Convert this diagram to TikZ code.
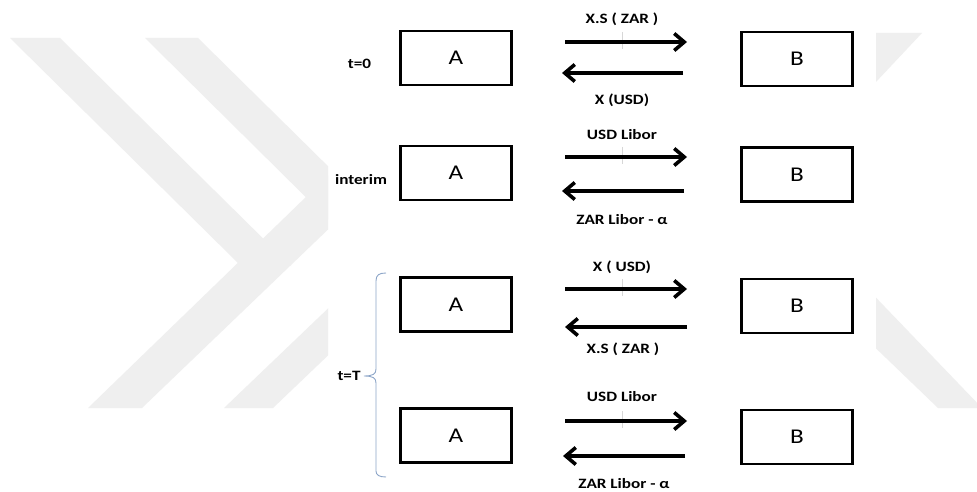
\documentclass[tikz,border=0pt]{standalone}
\usepackage{fontspec}
\setmainfont{Carlito}[FakeStretch=1.2]
\usetikzlibrary{arrows.meta}

\definecolor{wmark}{RGB}{239,239,239}
\definecolor{bracecol}{RGB}{140,165,200}
\definecolor{tickcol}{RGB}{215,215,215}

\begin{document}
\begin{tikzpicture}[x=1pt,y=-1pt,
  party/.style={draw, line width=2.6pt, minimum width=111pt, minimum height=54pt,
    inner sep=0pt, font=\fontsize{21}{21}\selectfont},
  flow/.style={line width=3.6pt,
    -{Straight Barb[length=10pt,width=17pt,line width=3.6pt]}},
  lbl/.style={inner sep=0pt, text height=9.2pt, text depth=0pt,
    font=\fontsize{14.3}{15}\selectfont\bfseries},
  tickmark/.style={draw=tickcol, line width=0.6pt}]

\useasboundingbox (0,0) rectangle (977,492);
\fill[white] (0,0) rectangle (977,492);

% faint chevron watermark at the sides
\begin{scope}
  \clip (0,0) rectangle (328,492);
  \fill[wmark] (10,38) -- (60,38) -- (291,266) -- (238,263) -- cycle;
  \fill[wmark] (88,408) -- (142,408) -- (340,218) -- (340,164) -- cycle;
  \fill[wmark] (145,38) -- (198,38) -- (340,178) -- (340,231) -- cycle;
  \fill[wmark] (224,408) -- (273,408) -- (340,344) -- (340,297) -- cycle;
\end{scope}
\begin{scope}
  \clip (876,0) rectangle (977,492);
  \fill[wmark] (860,33) -- (922,33) -- (860,99) -- cycle;
  \fill[wmark] (860,281) -- (982,408) -- (938,408) -- (860,333) -- cycle;
\end{scope}

% parties
\node[party] (A1) at (456,58) {A};
\node[party] (B1) at (797,59) {B};
\node[party] (A2) at (456,173) {A};
\node[party] (B2) at (797,174.5) {B};
\node[party] (A3) at (456,304.5) {A};
\node[party] (B3) at (797,306) {B};
\node[party] (A4) at (456,435.5) {A};
\node[party] (B4) at (797,437) {B};

% arrow end points
\coordinate (r1s) at (565,42);  \coordinate (r1e) at (687,42);
\coordinate (l1s) at (683,73);  \coordinate (l1e) at (562,73);
\coordinate (r2s) at (565,157); \coordinate (r2e) at (687,157);
\coordinate (l2s) at (684,191); \coordinate (l2e) at (562,191);
\coordinate (r3s) at (565,289); \coordinate (r3e) at (687,289);
\coordinate (l3s) at (687,327); \coordinate (l3e) at (565,327);
\coordinate (r4s) at (565,421); \coordinate (r4e) at (687,421);
\coordinate (l4s) at (685,456); \coordinate (l4e) at (563,456);

% faint marks across the upper arrows
\foreach \y in {42,157,289,421}
  \draw[tickmark] (622,\y-10) -- (622,\y+7);

\draw[flow] (r1s) -- (r1e);
\draw[flow] (l1s) -- (l1e);
\draw[flow] (r2s) -- (r2e);
\draw[flow] (l2s) -- (l2e);
\draw[flow] (r3s) -- (r3e);
\draw[flow] (l3s) -- (l3e);
\draw[flow] (r4s) -- (r4e);
\draw[flow] (l4s) -- (l4e);

% payment labels
\node[lbl] (p1a) at (622,19)  {X.S ( ZAR )};
\node[lbl] (p1b) at (622,100) {X (USD)};
\node[lbl] (p2a) at (622,135) {USD Libor};
\node[lbl] (p2b) at (622,220) {ZAR Libor - α};
\node[lbl] (p3a) at (622,267) {X ( USD)};
\node[lbl] (p3b) at (623,349) {X.S ( ZAR )};
\node[lbl] (p4a) at (622,397) {USD Libor};
\node[lbl] (p4b) at (624,484) {ZAR Libor - α};

% time labels
\node[lbl] (t0) at (359.5,64) {t=0};
\node[lbl] (ti) at (361,180) {interim};
\node[lbl] (tT) at (349,376) {t=T};

% brace grouping the maturity exchanges
\draw[bracecol, line width=0.9pt]
  (386,273) .. controls (379,273) and (376,275) .. (376,281)
  -- (376,369) .. controls (376,374) and (373,376) .. (364,376)
  .. controls (373,376) and (376,378) .. (376,383)
  -- (376,471) .. controls (376,475) and (379,477) .. (386,477);
\end{tikzpicture}
\end{document}
